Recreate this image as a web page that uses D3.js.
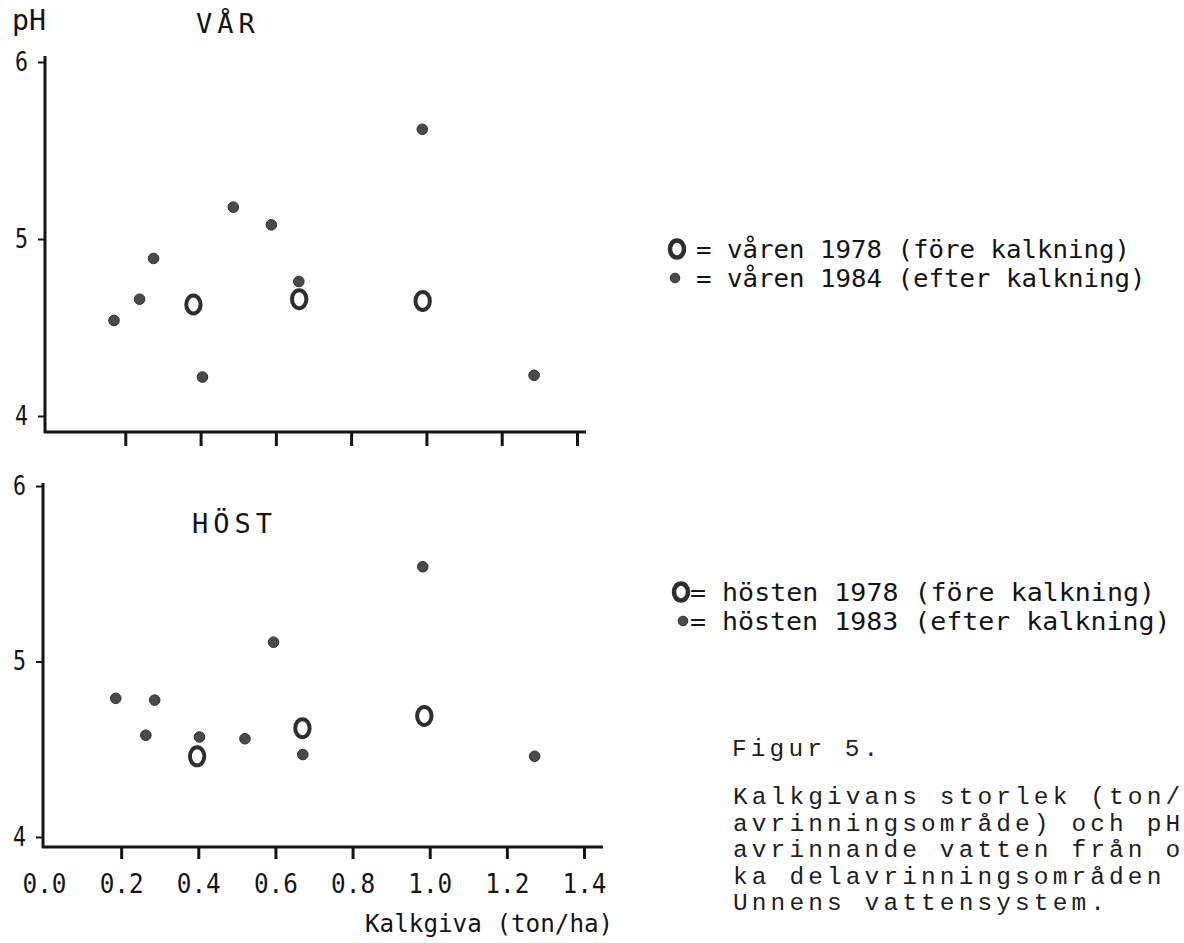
<!DOCTYPE html>
<html>
<head>
<meta charset="utf-8">
<script src="https://cdn.jsdelivr.net/npm/d3@7"></script>
<style>
  html, body { margin: 0; padding: 0; background: #fff; }
  svg { display: block; }
</style>
</head>
<body>
<svg id="chart" width="1184" height="943"></svg>
<script>
// Kalkgiva (ton/ha) against pH in the runoff of each sub-catchment.
// Spring: 1978 (before liming) and 1984 (after liming)
const springDose1984 = [0.170, 0.238, 0.275, 0.405, 0.487, 0.588, 0.661, 0.989, 1.286];
const springPh1984   = [4.54,  4.66,  4.89,  4.22,  5.18,  5.08,  4.76,  5.62,  4.23];
const springDose1978 = [0.381, 0.662, 0.990];
const springPh1978   = [4.63,  4.66,  4.65];

// Autumn: 1978 (before liming) and 1983 (after liming)
const autumnDose1983 = [0.186, 0.264, 0.287, 0.403, 0.521, 0.595, 0.671, 0.982, 1.272];
const autumnPh1983   = [4.79,  4.58,  4.78,  4.57,  4.56,  5.11,  4.47,  5.54,  4.46];
const autumnDose1978 = [0.397, 0.670, 0.986];
const autumnPh1978   = [4.46,  4.62,  4.69];

const doseTicks = [0, 0.2, 0.4, 0.6, 0.8, 1.0, 1.2, 1.4];
const phTicks = [4, 5, 6];

const springLegend = ["= våren 1978 (före kalkning)", "= våren 1984 (efter kalkning)"];
const autumnLegend = ["=  hösten 1978 (före kalkning)", "=  hösten 1983 (efter kalkning)"];
const xTitle = "Kalkgiva (ton/ha)";
const yTitle = "pH";
const captionHead = "Figur 5.";
const captionLines = [
  "Kalkgivans storlek (ton/",
  "avrinningsområde) och pH",
  "avrinnande vatten från o",
  "ka delavrinningsområden",
  "Unnens vattensystem."
];

const zip = (xs, ys) => xs.map((x, i) => ({ dose: x, ph: ys[i] }));

const INK = "#141414";
const DOT = "#4a4a4a";
const RING = "#2e2e2e";
const TYPE = "'DejaVu Sans Mono', 'Liberation Mono', monospace";
const TYPEWRITER = "'Liberation Mono', 'DejaVu Sans Mono', monospace";

const svg = d3.select("#chart");

// monospaced label squeezed to a fixed advance per character
function typeText(parent, str, x, y, size, advance, anchor) {
  const t = parent.append("text")
    .attr("x", x).attr("y", y)
    .attr("font-family", TYPE)
    .attr("font-size", size)
    .attr("fill", INK)
    .text(str);
  if (advance) {
    t.attr("textLength", str.length * advance).attr("lengthAdjust", "spacingAndGlyphs");
  }
  if (anchor) t.attr("text-anchor", anchor);
  return t;
}

const panels = [
  {
    title: "VÅR", titleX: 196, titleY: 33,
    x: d3.scaleLinear().domain([0, 1.4]).range([50, 577]),
    y: d3.scaleLinear().domain([4, 6]).range([416, 62]),
    axisX: 45, top: 56, base: 432, right: 586, tickLen: 14, showLabels: false,
    filled: zip(springDose1984, springPh1984),
    open: zip(springDose1978, springPh1978)
  },
  {
    title: "HÖST", titleX: 192, titleY: 533,
    x: d3.scaleLinear().domain([0, 1.4]).range([44, 584]),
    y: d3.scaleLinear().domain([4, 6]).range([837, 486]),
    axisX: 43, top: 483, base: 847, right: 603, tickLen: 12, showLabels: true,
    filled: zip(autumnDose1983, autumnPh1983),
    open: zip(autumnDose1978, autumnPh1978)
  }
];

panels.forEach(p => {
  const g = svg.append("g");

  // axis lines
  g.append("line")
    .attr("x1", p.axisX).attr("x2", p.axisX)
    .attr("y1", p.top).attr("y2", p.base + 1)
    .attr("stroke", INK).attr("stroke-width", 3);
  g.append("line")
    .attr("x1", p.axisX - 1).attr("x2", p.right)
    .attr("y1", p.base).attr("y2", p.base)
    .attr("stroke", INK).attr("stroke-width", 3);

  // pH ticks
  const yAxis = g.append("g")
    .attr("transform", `translate(${p.axisX},0)`)
    .call(d3.axisLeft(p.y).tickValues(phTicks).tickSize(7).tickPadding(10)
      .tickFormat(d3.format("d")));
  yAxis.select(".domain").remove();
  yAxis.selectAll(".tick line").attr("stroke", INK).attr("stroke-width", 2);
  yAxis.selectAll(".tick text")
    .attr("font-family", TYPE).attr("font-size", 26).attr("fill", INK)
    .attr("textLength", 13).attr("lengthAdjust", "spacingAndGlyphs");

  // dose ticks
  const xAxis = g.append("g")
    .attr("transform", `translate(0,${p.base})`)
    .call(d3.axisBottom(p.x).tickValues(doseTicks).tickSize(p.tickLen).tickPadding(16)
      .tickFormat(p.showLabels ? d3.format(".1f") : () => ""));
  xAxis.select(".domain").remove();
  xAxis.selectAll(".tick line")
    .attr("stroke", INK).attr("stroke-width", 3)
    .attr("display", d => d === 0 ? "none" : null);
  xAxis.selectAll(".tick text")
    .attr("font-family", TYPE).attr("font-size", 26).attr("fill", INK)
    .attr("textLength", 44).attr("lengthAdjust", "spacingAndGlyphs");

  // season title
  typeText(g, p.title, p.titleX, p.titleY, 27, null).attr("letter-spacing", 5);

  // 1978 values (open rings)
  g.selectAll("ellipse.before").data(p.open).join("ellipse")
    .attr("class", "before")
    .attr("cx", d => p.x(d.dose)).attr("cy", d => p.y(d.ph))
    .attr("rx", 7.2).attr("ry", 9)
    .attr("fill", "none").attr("stroke", RING).attr("stroke-width", 4);

  // after-liming values (filled dots)
  g.selectAll("circle.after").data(p.filled).join("circle")
    .attr("class", "after")
    .attr("cx", d => p.x(d.dose)).attr("cy", d => p.y(d.ph))
    .attr("r", 5.3)
    .attr("fill", DOT).attr("stroke", "#303030").attr("stroke-width", 1);
});

// axis titles
typeText(svg, yTitle, 12, 30, 28, 17);
typeText(svg, xTitle, 365, 932, 25, 14.6);

// legends: ring symbol, dot symbol and one text row for each
function legend(rows, ringX, ringY, dotX, dotY, textX, rowGap) {
  const g = svg.append("g");
  g.append("ellipse")
    .attr("cx", ringX).attr("cy", ringY)
    .attr("rx", 7).attr("ry", 8.5)
    .attr("fill", "none").attr("stroke", RING).attr("stroke-width", 4.5);
  g.append("circle")
    .attr("cx", dotX).attr("cy", dotY)
    .attr("r", 4.8).attr("fill", DOT).attr("stroke", "#303030").attr("stroke-width", 1);
  rows.forEach((str, i) => {
    typeText(g, str, textX, ringY + i * rowGap + 9, 25.5, 15.5);
  });
}
legend(springLegend, 677, 249, 675, 278, 696, 29);
legend(autumnLegend, 681, 592, 683, 621, 690, 29);

// caption
const cap = svg.append("g")
  .attr("font-family", TYPEWRITER)
  .attr("font-size", 24.5)
  .attr("letter-spacing", 4.1)
  .attr("fill", "#1e1e1e");
cap.append("text").attr("x", 732).attr("y", 756).text(captionHead);
cap.selectAll("text.line").data(captionLines).join("text")
  .attr("class", "line")
  .attr("x", 733)
  .attr("y", (d, i) => 804 + i * 26.5)
  .text(d => d);
</script>
</body>
</html>
